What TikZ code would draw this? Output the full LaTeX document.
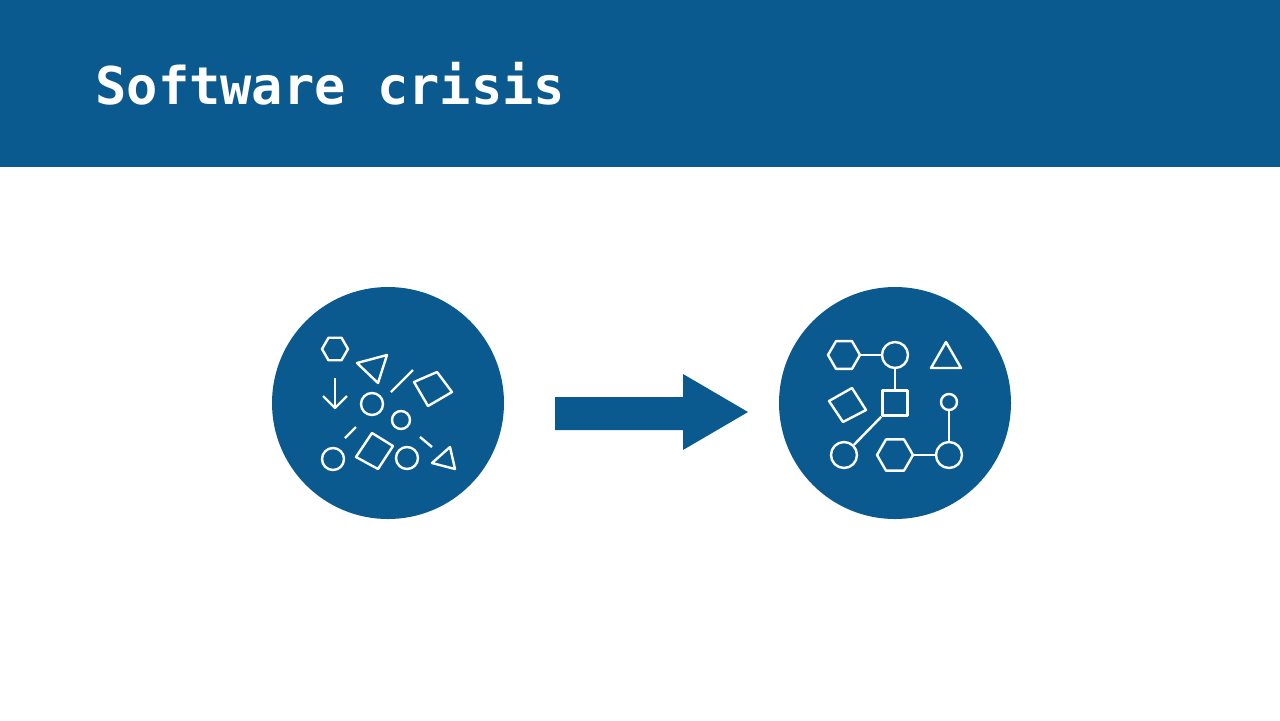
\documentclass[tikz,border=0pt]{standalone}
\usepackage{fontspec}
\setmonofont{DejaVu Sans Mono}
\definecolor{ibm}{HTML}{0B5A8F}
\begin{document}
\begin{tikzpicture}[x=0.5pt,y=-0.5pt,
  sh/.style={draw=white,line width=1.2pt,line join=round},
  disc/.style={fill=ibm}]
\useasboundingbox (0,0) rectangle (1280,720);
\fill[ibm] (0,0) rectangle (1280,167);
\node[anchor=base west,text=white,font=\ttfamily\bfseries\fontsize{26}{30}\selectfont,inner sep=0] (title) at (95,104) {Software crisis};
% circles
\fill[disc] (388,403) circle (116);
\fill[disc] (895,403) circle (116);
% arrow
\fill[ibm] (555,397) -- (683,397) -- (683,374) -- (748,412) -- (683,450) -- (683,430) -- (555,430) -- cycle;
% left chaos
\draw[sh] (335,349) ++(0:13) -- ++(120:13) -- ++(180:13) -- ++(240:13) -- ++(300:13) -- ++(0:13) -- cycle;
\draw[sh] (357,363) -- (387,355) -- (378,383) -- cycle;
\draw[sh] (391,392) -- (413,370);
\draw[sh] (414,382) -- (437,372) -- (452,392) -- (428,406) -- cycle;
\draw[sh] (335,378) -- (335,408);
\draw[sh] (323,396) -- (335,408) -- (347,396);
\draw[sh] (372,404) circle (11);
\draw[sh] (401,420) circle (9);
\draw[sh] (345,438) -- (356,427);
\draw[sh] (333,459) circle (11);
\draw[sh] (356,457) -- (372,433) -- (393,446) -- (378,469) -- cycle;
\draw[sh] (407,458) circle (11);
\draw[sh] (420,437) -- (432,447);
\draw[sh] (432,463) -- (450,447) -- (455,469) -- cycle;
% right order
\draw[sh] (844,355) ++(0:16) -- ++(120:16) -- ++(180:16) -- ++(240:16) -- ++(300:16) -- ++(0:16) -- cycle;
\node[sh,circle,minimum size=13pt,inner sep=0] (c1) at (895,355) {};
\draw[sh] (860,355) -- (c1);
\draw[sh] (931,368) -- (961,368) -- (946,342) -- cycle;
\node[sh,minimum size=12.5pt,inner sep=0] (sq) at (895,403) {};
\draw[sh] (c1) -- (sq);
\draw[sh] (829,401) -- (852,388) -- (866,410) -- (843,422) -- cycle;
\node[sh,circle,minimum size=8pt,inner sep=0] (c2) at (949,402) {};
\node[sh,circle,minimum size=13pt,inner sep=0] (c3) at (949,455) {};
\draw[sh] (c2) -- (c3);
\draw[sh] (895,455) ++(0:18) -- ++(120:18) -- ++(180:18) -- ++(240:18) -- ++(300:18) -- ++(0:18) -- cycle;
\draw[sh] (913,455) -- (c3);
\node[sh,circle,minimum size=13pt,inner sep=0] (c4) at (844,455) {};
\draw[sh] (c4) -- (sq.south west);
\end{tikzpicture}
\end{document}
